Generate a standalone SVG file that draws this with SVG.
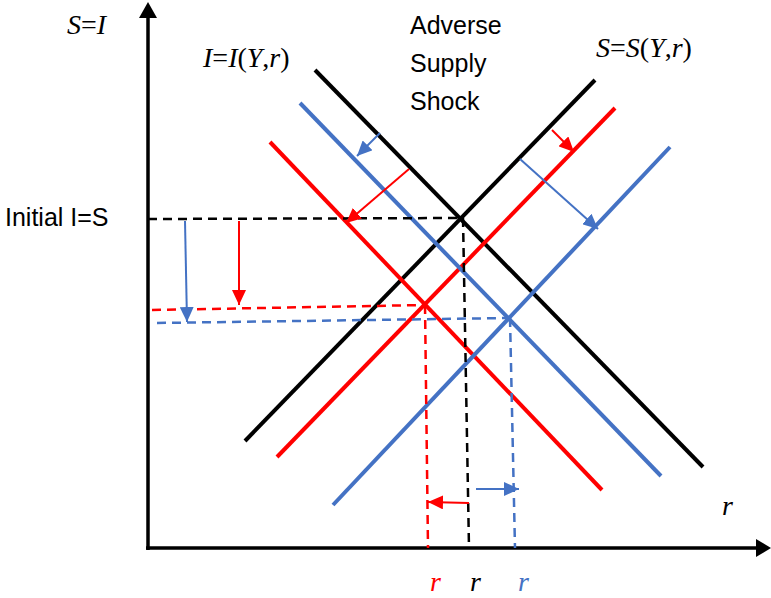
<svg xmlns="http://www.w3.org/2000/svg" width="771" height="598" viewBox="0 0 771 598">
<style>
.ax{stroke:#000;stroke-width:3.5;fill:none}
.main{stroke-width:4;fill:none;stroke-linecap:butt}
.k{stroke:#000}.rd{stroke:#FF0000}.bl{stroke:#4472C4}
.dash{stroke-width:2.5;fill:none;stroke-dasharray:9 6}
.arr{stroke-width:2;fill:none}
.tm{font-family:"Liberation Serif","Times New Roman",serif;font-style:italic;font-size:28px}
.up{font-style:normal}
.sn{font-family:"Liberation Sans",Arial,sans-serif;font-size:25px;fill:#000}
</style>
<defs>
<marker id="hr" markerUnits="userSpaceOnUse" markerWidth="16" markerHeight="14" refX="15" refY="7" orient="auto"><path d="M0,0L15,7L0,14Z" fill="#FF0000"/></marker>
<marker id="hb" markerUnits="userSpaceOnUse" markerWidth="16" markerHeight="14" refX="15" refY="7" orient="auto"><path d="M0,0L15,7L0,14Z" fill="#4472C4"/></marker>
</defs>
<g id="axes">
<line class="ax" x1="148" y1="550" x2="148" y2="16"/>
<path d="M139,18L148,2L157,18Z" fill="#000"/>
<line class="ax" x1="146" y1="548" x2="758" y2="548"/>
<path d="M756,539L771,548L756,557Z" fill="#000"/>
</g>
<g id="connectors">
<line class="main k" x1="315" y1="70" x2="703" y2="467"/>
<line class="main k" x1="245" y1="441" x2="595" y2="80"/>
<line class="main rd" x1="270" y1="142" x2="602" y2="490"/>
<line class="main rd" x1="277" y1="457" x2="615" y2="108"/>
<line class="main bl" x1="300" y1="103" x2="661" y2="476"/>
<line class="main bl" x1="333" y1="505" x2="670" y2="147"/>
<line class="dash k" x1="148" y1="219" x2="463" y2="218"/>
<line class="dash k" x1="463" y1="218" x2="469" y2="548"/>
<line class="dash rd" x1="152" y1="310" x2="425" y2="305"/>
<line class="dash rd" x1="425" y1="305" x2="428" y2="548"/>
<line class="dash bl" x1="157" y1="323" x2="510" y2="318"/>
<line class="dash bl" x1="510" y1="318" x2="515" y2="548"/>
<line class="arr bl" x1="185" y1="221" x2="187" y2="322" marker-end="url(#hb)"/>
<line class="arr rd" x1="239" y1="221" x2="239" y2="305" marker-end="url(#hr)"/>
<line class="arr rd" x1="409" y1="169" x2="346" y2="223" marker-end="url(#hr)"/>
<line class="arr bl" x1="380" y1="133" x2="357" y2="156" marker-end="url(#hb)"/>
<line class="arr rd" x1="552" y1="130" x2="574" y2="152" marker-end="url(#hr)"/>
<line class="arr bl" x1="520" y1="159" x2="598" y2="229" marker-end="url(#hb)"/>
<line class="arr rd" x1="469" y1="503" x2="428" y2="502" marker-end="url(#hr)"/>
<line class="arr bl" x1="476" y1="489" x2="519" y2="489" marker-end="url(#hb)"/>
</g>
<g id="labels">
<text class="tm" x="67" y="34">S<tspan class="up">=</tspan>I</text>
<text class="tm" x="203" y="67">I<tspan class="up">=</tspan>I<tspan class="up">(</tspan>Y<tspan class="up">,</tspan>r<tspan class="up">)</tspan></text>
<text class="tm" x="596" y="57">S<tspan class="up">=</tspan>S<tspan class="up">(</tspan>Y<tspan class="up">,</tspan>r<tspan class="up">)</tspan></text>
<text class="sn" x="410" y="34">Adverse</text>
<text class="sn" x="410" y="72">Supply</text>
<text class="sn" x="410" y="110">Shock</text>
<text class="sn" x="5" y="226">Initial I=S</text>
<text class="tm" x="722" y="515">r</text>
<text class="tm" x="430" y="591" fill="#FF0000">r</text>
<text class="tm" x="470" y="591">r</text>
<text class="tm" x="518" y="591" fill="#4472C4">r</text>
</g>
</svg>
